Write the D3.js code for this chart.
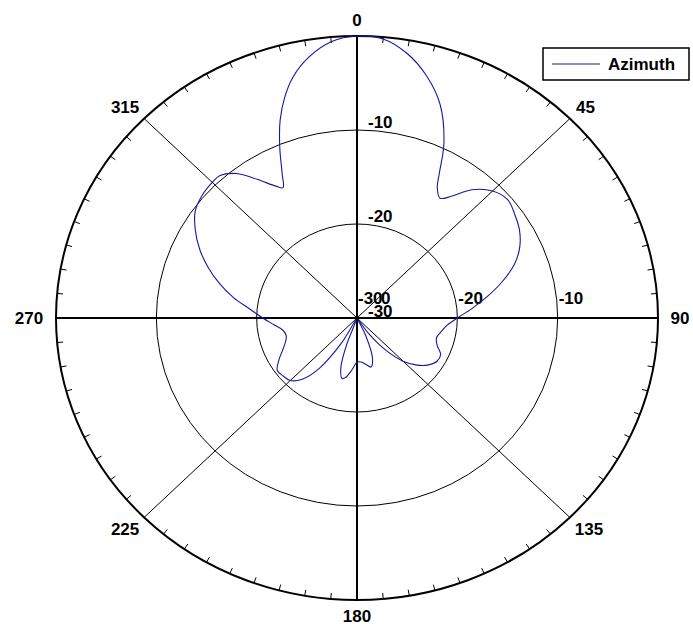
<!DOCTYPE html>
<html>
<head>
<meta charset="utf-8">
<script src="https://cdn.jsdelivr.net/npm/d3@7/dist/d3.min.js"></script>
<style>
  body { margin: 0; background: #fff; }
  text { font-family: "Liberation Sans", Arial, sans-serif; font-weight: bold; }
</style>
</head>
<body>
<svg width="693" height="624"></svg>
<script>
// angle (deg, clockwise from top) and gain (dB)
const angles = [0, 5, 10, 15, 20, 25, 28, 30, 33, 36, 40, 45, 50, 55, 60, 65, 70, 75, 80, 85,
    90, 95, 100, 105, 110, 115, 120, 125, 130, 135, 140, 145, 150, 155, 160, 165, 170, 175,
    180, 185, 190, 193, 197, 200, 205, 210, 215, 220, 225, 230, 235, 240, 245, 250, 255, 260,
    265, 270, 275, 280, 285, 290, 295, 300, 305, 310, 315, 318, 322, 326, 330, 332, 334, 337,
    340, 343, 346, 350, 355];
const azimuth = [0, -0.2, -1.4, -3.3, -5.8, -9.5, -12.5, -14.0, -14.8, -14.0, -12.2, -10.9, -10.4, -10.8, -11.3, -12.1, -13.3, -15.0, -16.8, -18.5,
    -20.0, -21.0, -21.5, -21.8, -21.5, -20.8, -20.8, -21.3, -22.2, -23.5, -25.5, -28.0, -29.8, -28.0, -25.5, -24.6, -25.0, -25.3,
    -25.3, -24.5, -23.6, -23.4, -24.5, -27.0, -29.8, -27.0, -23.5, -21.5, -20.6, -20.4, -20.3, -21.0, -21.8, -22.4, -22.7, -22.5,
    -21.7, -20.6, -19.3, -17.5, -15.8, -14.2, -12.7, -11.4, -10.3, -9.8, -9.6, -9.6, -10.5, -12.2, -13.8, -14.3, -13.0, -10.3,
    -7.6, -5.4, -3.6, -1.9, -0.5];
const angleLabels = [0, 45, 90, 135, 180, 225, 270, 315];
const ringValues = [-20, -10];
const ticksDb = [-30, -20, -10];
const radialLabels = ["-30", "-20", "-10"];
const seriesName = "Azimuth";

const svg = d3.select("svg");
const cx = 357, cy = 318, rx = 301, ry = 282;
const lineColor = "#18189a";

const r = d3.scaleLinear().domain([-30, 0]).range([0, 1]);
const rad = d => d * Math.PI / 180;
const px = (a, v) => cx + rx * r(v) * Math.sin(rad(a));
const py = (a, v) => cy - ry * r(v) * Math.cos(rad(a));

// rings
svg.selectAll(".ring").data(ringValues).enter().append("ellipse")
    .attr("cx", cx).attr("cy", cy)
    .attr("rx", d => rx * r(d)).attr("ry", d => ry * r(d))
    .attr("fill", "none").attr("stroke", "#000").attr("stroke-width", 1);

// spokes
svg.selectAll(".spoke").data(angleLabels).enter().append("line")
    .attr("x1", cx).attr("y1", cy)
    .attr("x2", d => px(d, 0)).attr("y2", d => py(d, 0))
    .attr("stroke", "#000")
    .attr("stroke-width", d => d % 90 === 0 ? 2 : 1);

// minor ticks every 5 deg
svg.selectAll(".tick").data(d3.range(0, 360, 5).filter(d => d % 45 !== 0)).enter().append("line")
    .attr("x1", d => px(d, 0)).attr("y1", d => py(d, 0))
    .attr("x2", d => cx + (rx - 6) * Math.sin(rad(d))).attr("y2", d => cy - (ry - 6) * Math.cos(rad(d)))
    .attr("stroke", "#000").attr("stroke-width", 1);

// outer ellipse
svg.append("ellipse")
    .attr("cx", cx).attr("cy", cy).attr("rx", rx).attr("ry", ry)
    .attr("fill", "none").attr("stroke", "#000").attr("stroke-width", 2);

// angle labels
svg.selectAll(".alabel").data(angleLabels).enter().append("text")
    .attr("x", d => cx + (rx + 22 + 5 * (String(d).length - 2)) * Math.sin(rad(d)))
    .attr("y", d => cy - (ry + 16) * Math.cos(rad(d)) + 6)
    .attr("text-anchor", "middle")
    .attr("font-size", 17)
    .text(d => d);

// radial labels, vertical axis
svg.selectAll(".vlabel").data(ticksDb).enter().append("text")
    .attr("x", cx + 11)
    .attr("y", (d, i) => py(0, d) + (i === 0 ? -1 : -2))
    .attr("font-size", 17)
    .text((d, i) => radialLabels[i]);

// radial labels, horizontal axis
svg.selectAll(".hlabel").data(ticksDb).enter().append("text")
    .attr("x", d => px(90, d) + 1)
    .attr("y", cy - 14)
    .attr("font-size", 17)
    .text((d, i) => radialLabels[i]);
svg.append("text").attr("x", cx + 24).attr("y", cy - 14).attr("font-size", 17).text("0");

// pattern
const pts = angles.map((a, i) => [px(a, azimuth[i]), py(a, azimuth[i])]);
svg.append("path")
    .attr("d", d3.line().curve(d3.curveCatmullRomClosed.alpha(0.5))(pts))
    .attr("fill", "none")
    .attr("stroke", lineColor)
    .attr("stroke-width", 1.1);

// legend
const lg = svg.append("g").attr("transform", "translate(543,48)");
lg.append("rect").attr("width", 146).attr("height", 32)
    .attr("fill", "#fff").attr("stroke", "#000").attr("stroke-width", 1.5);
lg.append("line").attr("x1", 9).attr("x2", 57).attr("y1", 16).attr("y2", 16)
    .attr("stroke", lineColor).attr("stroke-width", 1.1);
lg.append("text").attr("x", 65).attr("y", 22).attr("font-size", 17).text(seriesName);
</script>
</body>
</html>
